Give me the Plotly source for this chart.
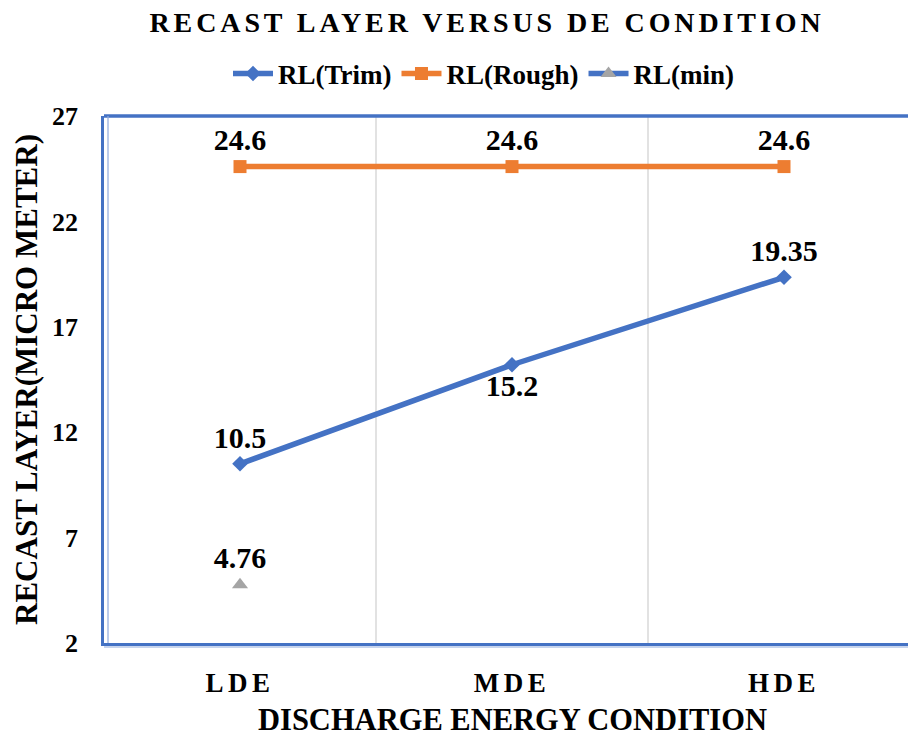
import plotly.graph_objects as go

categories = ["LDE", "MDE", "HDE"]
rl_trim = [10.5, 15.2, 19.35]
rl_rough = [24.6, 24.6, 24.6]
rl_min = [4.76, None, None]
y_ticks = [2, 7, 12, 17, 22, 27]

trim_text = ["10.5", "15.2", "19.35"]
trim_pos = ["top center", "bottom center", "top center"]
rough_text = ["24.6", "24.6", "24.6"]
min_text = ["4.76", "", ""]

FONT = "Liberation Serif"
BLUE = "#4472C4"
ORANGE = "#ED7D31"
GREY = "#A5A5A5"

x_idx = list(range(len(categories)))

fig = go.Figure()
fig.add_trace(go.Scatter(
    x=x_idx, y=rl_trim, name="RL(Trim)", mode="lines+markers+text",
    line=dict(color=BLUE, width=5.5),
    marker=dict(symbol="diamond", size=12, color=BLUE),
    text=["<b>%s</b>" % t for t in trim_text], textposition=trim_pos,
    textfont=dict(family=FONT, size=30, color="black"),
    cliponaxis=False,
))
fig.add_trace(go.Scatter(
    x=x_idx, y=rl_rough, name="RL(Rough)", mode="lines+markers+text",
    line=dict(color=ORANGE, width=5.5),
    marker=dict(symbol="square", size=13, color=ORANGE),
    text=["<b>%s</b>" % t for t in rough_text], textposition="top center",
    textfont=dict(family=FONT, size=30, color="black"),
    cliponaxis=False,
))
fig.add_trace(go.Scatter(
    x=x_idx, y=rl_min, name="RL(min)", mode="lines+markers+text",
    line=dict(color=BLUE, width=5.5),
    marker=dict(symbol="triangle-up", size=14, color=GREY),
    text=["<b>%s</b>" % t for t in min_text], textposition="top center",
    textfont=dict(family=FONT, size=30, color="black"),
    cliponaxis=False,
))

px_per_cat = 272.0
plot_w = 908 - 104
plot_h = 738 - 116 - 95
x_max = -0.5 + plot_w / px_per_cat
# centre of the full (partly off-page) plot area, in paper units
full_centre = (len(categories) * px_per_cat / 2) / plot_w

fig.update_layout(
    width=908, height=738,
    margin=dict(l=104, r=0, t=116, b=95),
    paper_bgcolor="white", plot_bgcolor="white",
    font=dict(family=FONT, color="black"),
    title=dict(
        text='<b><span style="letter-spacing:3.9px">RECAST LAYER VERSUS DE CONDITION</span></b>',
        x=487 / 908, xanchor="center", y=1 - 22 / 738, yanchor="middle",
        font=dict(family=FONT, size=28, color="black"),
    ),
    legend=dict(
        orientation="h", x=484 / 908, xanchor="center", y=1 - 74 / 738, yanchor="middle",
        xref="container", yref="container",
        font=dict(family=FONT, size=27, color="black", weight="bold"),
        itemwidth=40, tracegroupgap=0,
        bgcolor="rgba(0,0,0,0)",
    ),
    showlegend=True,
    xaxis=dict(
        range=[-0.5, x_max],
        tickmode="array", tickvals=x_idx,
        ticktext=['<b><span style="letter-spacing:4.5px">%s</span></b>' % c for c in categories],
        tickfont=dict(family=FONT, size=27, color="black"),
        showgrid=False, zeroline=False,
        showline=True, linecolor=BLUE, linewidth=2.5, mirror=False,
        ticks="", ticklabelstandoff=14,
    ),
    yaxis=dict(
        range=[2, 27], tickmode="array", tickvals=y_ticks,
        ticktext=["<b>%d</b>" % v for v in y_ticks],
        tickfont=dict(family=FONT, size=26, color="black"),
        showgrid=False, zeroline=False,
        showline=True, linecolor=BLUE, linewidth=2.5,
        ticks="", ticklabelstandoff=18,
        title=dict(text="<b>RECAST LAYER(MICRO METER)</b>",
                   font=dict(family=FONT, size=31, color="black"), standoff=6),
    ),
)

# x-axis title, centred under the full plot area
fig.add_annotation(
    text="<b>DISCHARGE ENERGY CONDITION</b>", xref="paper", yref="paper",
    x=full_centre, xanchor="center", y=-(720 - 643) / plot_h, yanchor="middle",
    showarrow=False, font=dict(family=FONT, size=30.5, color="black"),
)

# vertical gridlines at category boundaries
for i in range(len(categories) - 1):
    fig.add_shape(type="line", xref="x", yref="paper", x0=i + 0.5, x1=i + 0.5, y0=0, y1=1,
                  line=dict(color="#D9D9D9", width=1.5), layer="below")
# top border of plot area
fig.add_shape(type="line", xref="paper", yref="paper", x0=0, x1=1, y0=1, y1=1,
              line=dict(color=BLUE, width=3.5))
# inner light lines of double border
fig.add_shape(type="line", xref="paper", yref="paper", x0=4 / plot_w, x1=4 / plot_w, y0=0, y1=1,
              line=dict(color="#8FAADC", width=1.2))
fig.add_shape(type="line", xref="paper", yref="paper", x0=0, x1=1, y0=-4 / plot_h, y1=-4 / plot_h,
              line=dict(color="#8FAADC", width=1.2))

fig.write_html("out.html")
